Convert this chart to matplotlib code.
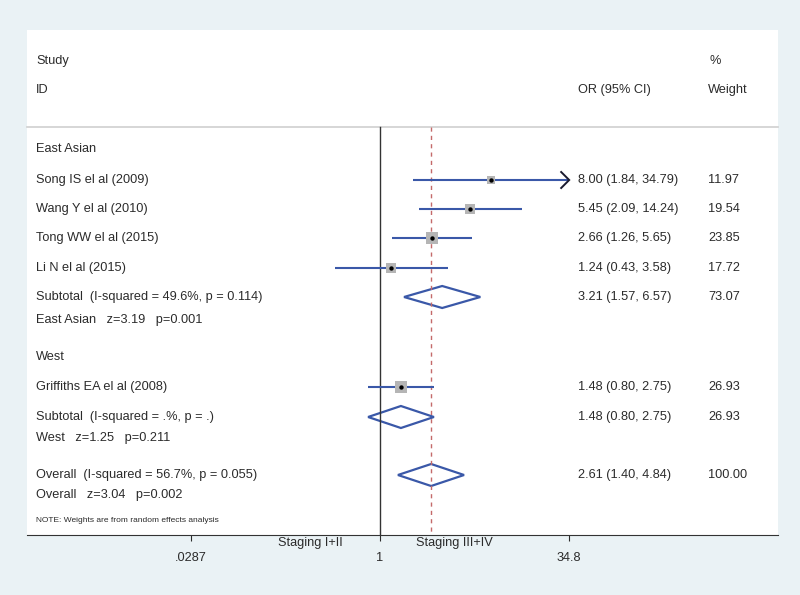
import numpy as np
import matplotlib
matplotlib.use('Agg')
from matplotlib import pyplot as plt
from matplotlib import transforms
from matplotlib.patches import Polygon

plt.rcParams['font.family'] = ['Liberation Sans', 'DejaVu Sans']

# study level data
studies = ['Song IS el al (2009)', 'Wang Y el al (2010)', 'Tong WW el al (2015)',
           'Li N el al (2015)', 'Griffiths EA el al (2008)']
odds = [8.00, 5.45, 2.66, 1.24, 1.48]
lower = [1.84, 2.09, 1.26, 0.43, 0.80]
upper = [34.79, 14.24, 5.65, 3.58, 2.75]
weights = [11.97, 19.54, 23.85, 17.72, 26.93]

# pooled estimates
pooled_labels = ['Subtotal  (I-squared = 49.6%, p = 0.114)',
                 'Subtotal  (I-squared = .%, p = .)',
                 'Overall  (I-squared = 56.7%, p = 0.055)']
pooled_z = ['East Asian   z=3.19   p=0.001', 'West   z=1.25   p=0.211',
            'Overall   z=3.04   p=0.002']
pooled_or = [3.21, 1.48, 2.61]
pooled_lo = [1.57, 0.80, 1.40]
pooled_hi = [6.57, 2.75, 4.84]
pooled_w = [73.07, 26.93, 100.00]

groups = ['East Asian', 'West']
ticks = [0.0287, 1, 34.8]
tick_labels = ['.0287', '1', '34.8']

W, H = 800, 595
fig = plt.figure(figsize=(W / 100, H / 100), dpi=100)
fig.patch.set_facecolor('#eaf2f5')

# panel in pixels: x 27..778, y 30..535
px_l, px_r, px_t, px_b = 27, 778, 30, 535
ax = fig.add_axes([px_l / W, 1 - px_b / H, (px_r - px_l) / W, (px_b - px_t) / H])
ax.set_facecolor('white')
ax.set_xscale('log')
x1_px, scale = 380.0, 53.3  # pixel of OR=1, pixels per ln unit
ax.set_xlim(np.exp((px_l - x1_px) / scale), np.exp((px_r - x1_px) / scale))
ax.set_ylim(px_b, px_t)

blue = '#3a58a8'
txt = '#2b2b2b'
fs = 9.2
tr = transforms.blended_transform_factory(fig.transFigure, ax.transData)


def label(px, y, s, **kw):
    kw.setdefault('fontsize', fs)
    kw.setdefault('color', txt)
    kw.setdefault('va', 'center')
    ax.text(px / W, y, s, transform=tr, **kw)


# header
label(36, 61, 'Study')
label(36, 90, 'ID')
label(578, 90, 'OR (95% CI)')
label(710, 61, '%')
label(708, 90, 'Weight')
ax.plot([0, 1], [127, 127], transform=transforms.blended_transform_factory(ax.transAxes, ax.transData),
        color='#cfcfcf', lw=1.2, clip_on=False)

# reference lines
ax.plot([1, 1], [127, px_b], color='#333333', lw=1)
ax.plot([pooled_or[2]] * 2, [127, px_b], color='#c46a6a', lw=1, ls=(0, (3, 3)))

# row layout
group_y = [149, 357]
study_y = [180, 209, 238, 268, 387]
pooled_y = [297, 417, 475]
z_y = [320, 438, 495]

for g, y in zip(groups, group_y):
    label(36, y, g)

xmax = ticks[-1]
for i, name in enumerate(studies):
    y = study_y[i]
    label(36, y, name)
    hi = min(upper[i], xmax)
    ax.plot([lower[i], hi], [y, y], color=blue, lw=1.5, solid_capstyle='butt')
    if upper[i] >= 0.99 * xmax:
        # CI truncated at the axis limit -> arrow head
        back = hi / np.exp(8 / scale)
        ax.plot([back, hi, back], [y - 8, y, y + 8], color='#1a1a2e', lw=1.4,
                solid_joinstyle='miter', zorder=4)
    side = 1.93 * np.sqrt(weights[i]) * 0.72 * 1.2
    ax.scatter([odds[i]], [y], marker='s', s=side ** 2, color='#b5b5b5', zorder=3, lw=0)
    ax.scatter([odds[i]], [y], marker='o', s=10, color='black', zorder=4, lw=0)
    label(578, y, f'{odds[i]:.2f} ({lower[i]:.2f}, {upper[i]:.2f})')
    label(708, y, f'{weights[i]:.2f}')

for i, s in enumerate(pooled_labels):
    y = pooled_y[i]
    label(36, y, s)
    label(36, z_y[i], pooled_z[i])
    d = Polygon([(pooled_lo[i], y), (pooled_or[i], y - 11), (pooled_hi[i], y),
                 (pooled_or[i], y + 11)], closed=True, fill=False, edgecolor=blue, lw=1.6)
    ax.add_patch(d)
    label(578, y, f'{pooled_or[i]:.2f} ({pooled_lo[i]:.2f}, {pooled_hi[i]:.2f})')
    label(708, y, f'{pooled_w[i]:.2f}')

label(36, 521, 'NOTE: Weights are from random effects analysis', fontsize=6)

# axis
for sp in ['top', 'left', 'right']:
    ax.spines[sp].set_visible(False)
ax.spines['bottom'].set_color('#333333')
ax.set_yticks([])
ax.set_xticks(ticks)
ax.set_xticklabels(tick_labels)
ax.minorticks_off()
ax.tick_params(axis='x', direction='out', length=4, pad=8, labelsize=fs, colors='#2b2b2b')

fig.text(343 / W, 1 - 543 / H, 'Staging I+II', ha='right', va='center', fontsize=fs, color=txt)
fig.text(416 / W, 1 - 543 / H, 'Staging III+IV', ha='left', va='center', fontsize=fs, color=txt)

fig.savefig('out.png', dpi=100, facecolor=fig.get_facecolor())
